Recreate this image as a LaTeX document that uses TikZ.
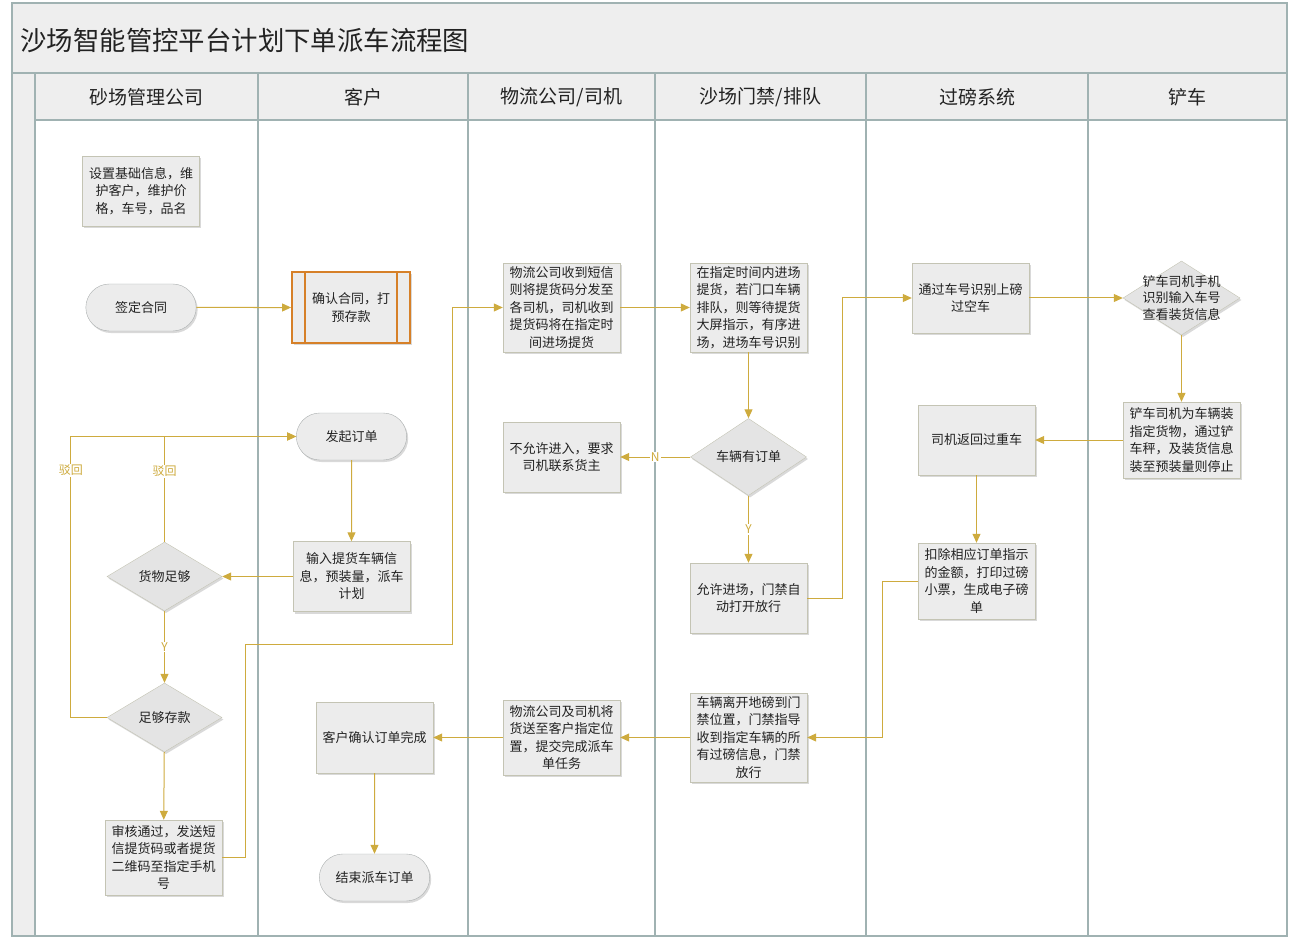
\documentclass[tikz,border=0pt]{standalone}
\usepackage{fontspec}
\setmainfont{Noto Sans CJK SC}
\usepackage{tikz}
\usetikzlibrary{shapes.geometric, shapes.misc, arrows.meta, positioning, shadows}
\definecolor{flowline}{RGB}{206,171,62}
\definecolor{boxfill}{RGB}{236,236,236}
\definecolor{diafill}{RGB}{228,228,228}
\definecolor{boxedge}{RGB}{196,196,180}
\definecolor{termedge}{RGB}{170,174,174}
\definecolor{laneline}{RGB}{160,178,178}
\definecolor{bandfill}{RGB}{238,238,238}
\definecolor{predef}{RGB}{214,128,40}
\definecolor{ink}{RGB}{34,34,34}

\begin{document}
\begin{tikzpicture}[x=1pt, y=-1pt,
    shade/.style={drop shadow={shadow xshift=1.5pt, shadow yshift=-2pt, opacity=.3}},
    proc/.style={rectangle, draw=boxedge, fill=boxfill, shade,
                 minimum width=117pt, minimum height=70pt,
                 font=\fontsize{13}{17.5}\selectfont, text=ink, align=center},
    term/.style={rounded rectangle, draw=termedge, fill=boxfill, shade,
                 minimum width=117pt, minimum height=47pt,
                 font=\fontsize{13}{17.5}\selectfont, text=ink},
    dec/.style={diamond, draw=boxedge, fill=diafill, shade, inner sep=0pt,
                minimum width=116pt, minimum height=70pt,
                font=\fontsize{13}{17.5}\selectfont, text=ink, align=center},
    pre/.style={proc, draw=predef, line width=1.8pt},
    flow/.style={-{Triangle[length=9pt, width=8pt]}, line width=1pt, color=flowline},
    lbl/.style={fill=white, inner sep=1pt, text=flowline, font=\fontsize{12}{14}\selectfont},
    hdr/.style={font=\fontsize{19}{22}\selectfont, text=ink},
    lane/.style={draw=laneline, line width=1.2pt}
  ]
  \useasboundingbox (0,0) rectangle (1298,941);

  % swimlane frame
  \fill[bandfill] (12,3) rectangle (1287,73);
  \fill[bandfill] (35,73) rectangle (1287,120);
  \fill[bandfill] (12,73) rectangle (35,936);
  \draw[lane] (12,3) rectangle (1287,936);
  \draw[lane] (12,73) -- (1287,73);
  \draw[lane] (35,120) -- (1287,120);
  \foreach \x in {35,258,468,655,866,1088}
    \draw[lane] (\x,73) -- (\x,936);

  \node[anchor=west, font=\fontsize{26.4}{30}\selectfont, text=ink] (title) at (17,40)
    {沙场智能管控平台计划下单派车流程图};
  \foreach \x/\t [count=\i] in {146.5/砂场管理公司, 363/客户, 561.5/{物流公司/司机},
      760.5/{沙场门禁/排队}, 977/过磅系统, 1187.5/铲车}
    \node[hdr] (lane\i) at (\x,97) {\t};

  % 砂场管理公司
  \node[proc] (setup) at (141,191) {设置基础信息，维\\护客户，维护价\\格，车号，品名};
  \node[term] (sign) at (141,307.5) {签定合同};
  \node[dec, minimum width=115pt, minimum height=69pt] (goods) at (164.5,576.5) {货物足够};
  \node[dec, minimum width=115pt, minimum height=69pt] (deposit) at (164.5,717.5) {足够存款};
  \node[proc, minimum height=75pt] (audit) at (163.5,857.5)
    {审核通过，发送短\\信提货码或者提货\\二维码至指定手机\\号};

  % 客户
  \node[pre, minimum width=118pt, minimum height=71pt] (confirm) at (351,307.5) {确认合同，打\\预存款};
  \draw[predef, line width=1.8pt] ([xshift=14pt]confirm.north west) -- ([xshift=14pt]confirm.south west);
  \draw[predef, line width=1.8pt] ([xshift=-14pt]confirm.north east) -- ([xshift=-14pt]confirm.south east);
  \node[term] (order) at (351.5,436.5) {发起订单};
  \node[proc] (input) at (351.5,576.5) {输入提货车辆信\\息，预装量，派车\\计划};
  \node[proc, minimum height=71pt] (done) at (374.5,737.5) {客户确认订单完成};
  \node[term] (finish) at (374.5,877.5) {结束派车订单};

  % 物流公司/司机
  \node[proc, minimum height=88pt] (recv) at (561.5,307.5)
    {物流公司收到短信\\则将提货码分发至\\各司机，司机收到\\提货码将在指定时\\间进场提货};
  \node[proc] (deny) at (561.5,457) {不允许进入，要求\\司机联系货主};
  \node[proc, minimum height=75pt] (deliver) at (561.5,737.5)
    {物流公司及司机将\\货送至客户指定位\\置，提交完成派车\\单任务};

  % 沙场门禁/排队
  \node[proc, minimum height=89pt] (queue) at (748.5,307.5)
    {在指定时间内进场\\提货，若门口车辆\\排队，则等待提货\\大屏指示，有序进\\场，进场车号识别};
  \node[dec] (check) at (748.5,457) {车辆有订单};
  \node[proc] (allow) at (748.5,598) {允许进场，门禁自\\动打开放行};
  \node[proc, minimum height=87pt] (leave) at (748.5,737.5)
    {车辆离开地磅到门\\禁位置，门禁指导\\收到指定车辆的所\\有过磅信息，门禁\\放行};

  % 过磅系统
  \node[proc] (scan) at (970.5,298) {通过车号识别上磅\\过空车};
  \node[proc] (back) at (976.5,440) {司机返回过重车};
  \node[proc, minimum height=76pt] (deduct) at (976.5,581)
    {扣除相应订单指示\\的金额，打印过磅\\小票，生成电子磅\\单};

  % 铲车
  \node[dec, minimum width=117pt, minimum height=74pt] (loader) at (1181.5,298) {};
  \node[font=\fontsize{13}{16.5}\selectfont, text=ink, align=center] (loadert) at (loader)
    {铲车司机手机\\识别输入车号\\查看装货信息};
  \node[proc, minimum height=76pt] (load) at (1181.5,440)
    {铲车司机为车辆装\\指定货物，通过铲\\车秤，及装货信息\\装至预装量则停止};

  % connectors
  \draw[flow] (sign) -- (confirm);
  \draw[flow] (order) -- (input);
  \draw[flow] (input) -- (goods);
  \draw[flow] (goods) -- node[lbl]{Y} (deposit);
  \draw[flow] (goods.north) |- node[lbl, pos=.335]{驳回} (order.west);
  \draw[flow] (deposit.west) -- ++(-36,0) |- node[lbl, pos=.44]{驳回} (order.west);
  \draw[flow] (deposit) -- (audit);
  \draw[flow] (audit.east) -| (245,644) -| (452,307.5) -- (recv.west);
  \draw[flow] (recv) -- (queue);
  \draw[flow] (queue) -- (check);
  \draw[flow] (check) -- node[lbl]{N} (deny);
  \draw[flow] (check) -- node[lbl]{Y} (allow);
  \draw[flow] (allow.east) -- ++(35,0) |- (scan.west);
  \draw[flow] (scan) -- (loader);
  \draw[flow] (loader) -- (load);
  \draw[flow] (load) -- (back);
  \draw[flow] (back) -- (deduct);
  \draw[flow] (deduct.west) -- ++(-35,0) |- (leave.east);
  \draw[flow] (leave) -- (deliver);
  \draw[flow] (deliver) -- (done);
  \draw[flow] (done) -- (finish);
\end{tikzpicture}
\end{document}
